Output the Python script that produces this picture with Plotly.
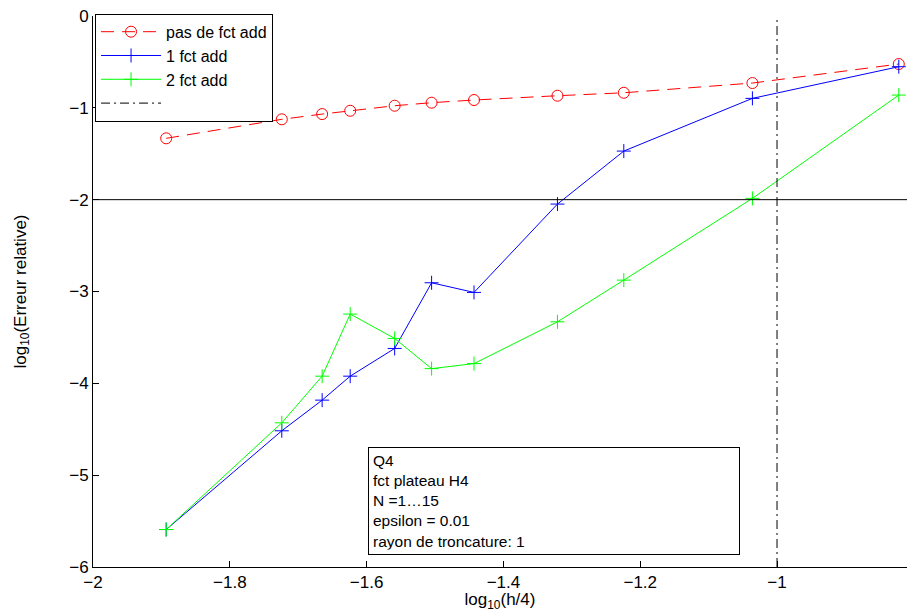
import plotly.graph_objects as go

# log10(h/4) abscissae shared by all three series
x_vals = [-1.893, -1.724, -1.665, -1.624, -1.559, -1.505, -1.443, -1.321, -1.224, -1.036, -0.822]

# log10 of the relative error for each configuration
err_none = [-1.332, -1.125, -1.068, -1.032, -0.977, -0.944, -0.915, -0.868, -0.836, -0.730, -0.523]
err_one = [-5.592, -4.517, -4.183, -3.922, -3.620, -2.905, -3.010, -2.048, -1.471, -0.897, -0.552]
err_two = [-5.592, -4.430, -3.922, -3.246, -3.511, -3.840, -3.785, -3.330, -2.876, -1.986, -0.861]

series_names = ["pas de fct add", "1 fct add", "2 fct add"]

# reference levels: error threshold and step-size limit
err_threshold = -2
h_limit = -1

x_ticks = [-2, -1.8, -1.6, -1.4, -1.2, -1]
y_ticks = [-6, -5, -4, -3, -2, -1, 0]
x_range = [-2, -0.81]
y_range = [-6, 0]

info_lines = ["Q4", "fct plateau H4", "N =1…15", "epsilon = 0.01", "rayon de troncature: 1"]

FONT = "Liberation Sans, Arial, Helvetica, sans-serif"

fig = go.Figure()

fig.add_trace(go.Scatter(
    x=x_vals, y=err_none, name=series_names[0], mode="lines+markers",
    line=dict(color="#ff0000", width=1, dash="13px,8px"),
    marker=dict(symbol="circle-open", size=11, color="#ff0000", line=dict(width=1)),
))
fig.add_trace(go.Scatter(
    x=x_vals, y=err_one, name=series_names[1], mode="lines+markers",
    line=dict(color="#0000ff", width=1),
    marker=dict(symbol="cross-thin-open", size=10, color="#0000ff", line=dict(width=1, color="#0000ff")),
))
fig.add_trace(go.Scatter(
    x=x_vals, y=err_two, name=series_names[2], mode="lines+markers",
    line=dict(color="#00ff00", width=1),
    marker=dict(symbol="cross-thin-open", size=10, color="#00ff00", line=dict(width=1, color="#00ff00")),
))
fig.add_trace(go.Scatter(
    x=[h_limit, h_limit], y=y_range, name="", mode="lines",
    line=dict(color="black", width=1, dash="9px,4px,2px,4px"),
))
fig.add_trace(go.Scatter(
    x=x_range, y=[err_threshold, err_threshold], mode="lines", showlegend=False,
    line=dict(color="black", width=1),
))

fig.add_annotation(
    text="<br>".join(info_lines), xref="paper", yref="paper",
    x=0.3378, y=0.218, xanchor="left", yanchor="top",
    align="left", showarrow=False, width=362,
    bordercolor="black", borderwidth=1, borderpad=4, bgcolor="white",
    font=dict(family=FONT, size=15.5, color="black"),
)

axis_common = dict(
    showgrid=False, zeroline=False, showline=True, linecolor="black", linewidth=1,
    ticks="inside", ticklen=6, tickcolor="black", mirror=False,
    tickfont=dict(family=FONT, size=17, color="black"),
)

fig.update_layout(
    width=907, height=612,
    margin=dict(l=93, r=0, t=16, b=45),
    paper_bgcolor="white", plot_bgcolor="white",
    font=dict(family=FONT, color="black"),
    showlegend=True,
    legend=dict(
        x=0.0025, y=1.004, xanchor="left", yanchor="top",
        bgcolor="white", bordercolor="black", borderwidth=1,
        font=dict(family=FONT, size=16, color="black"),
        tracegroupgap=0, itemwidth=60,
    ),
    xaxis=dict(
        range=x_range, tickvals=x_ticks, **axis_common,
        title=dict(text="log<sub>10</sub>(h/4)", standoff=0, font=dict(family=FONT, size=17)),
    ),
    yaxis=dict(
        range=y_range, tickvals=y_ticks, **axis_common,
        title=dict(text="log<sub>10</sub>(Erreur relative)", standoff=38, font=dict(family=FONT, size=17)),
    ),
)

fig.write_html("out.html")
